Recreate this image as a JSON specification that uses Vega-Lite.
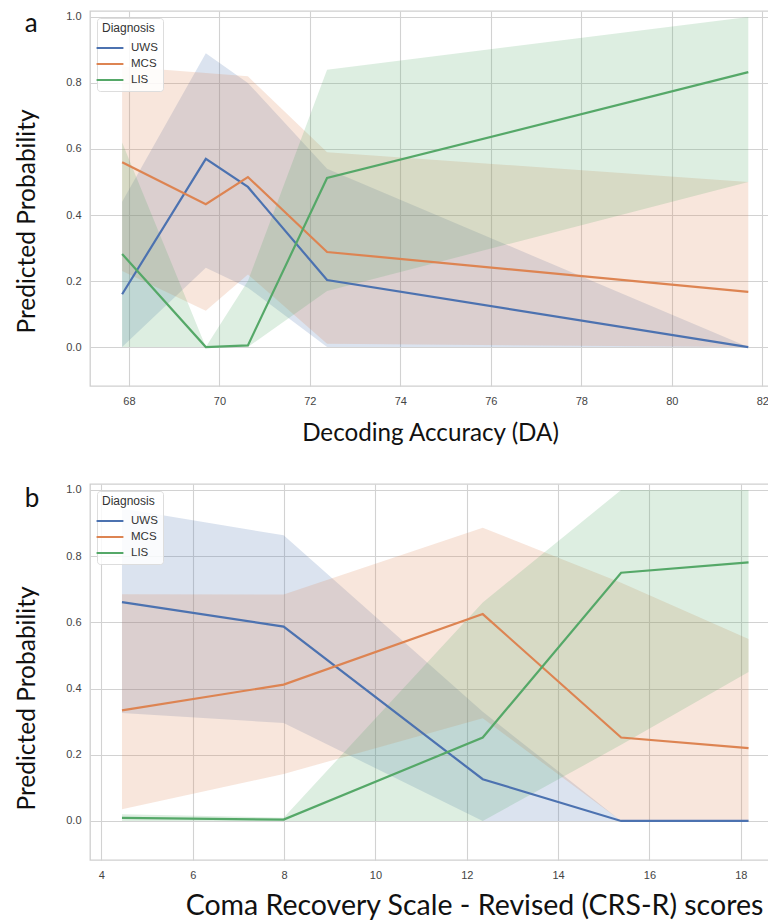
{
  "$schema": "https://vega.github.io/schema/vega-lite/v6.json",
  "padding": {"left": 14, "top": 10, "right": 0, "bottom": 0},
  "background": "white",
  "datasets": {
    "a": [
      {"x": 67.85, "diag": "UWS", "p": 0.16, "lo": 0.0, "hi": 0.44},
      {"x": 69.70, "diag": "UWS", "p": 0.57, "lo": 0.24, "hi": 0.89},
      {"x": 70.63, "diag": "UWS", "p": 0.485, "lo": 0.18, "hi": 0.8},
      {"x": 72.38, "diag": "UWS", "p": 0.203, "lo": 0.0, "hi": 0.54},
      {"x": 81.69, "diag": "UWS", "p": 0.0, "lo": 0.0, "hi": 0.0},
      {"x": 67.85, "diag": "MCS", "p": 0.56, "lo": 0.23, "hi": 0.85},
      {"x": 69.70, "diag": "MCS", "p": 0.433, "lo": 0.11, "hi": 0.83},
      {"x": 70.63, "diag": "MCS", "p": 0.515, "lo": 0.22, "hi": 0.82},
      {"x": 72.38, "diag": "MCS", "p": 0.288, "lo": 0.01, "hi": 0.59},
      {"x": 81.69, "diag": "MCS", "p": 0.167, "lo": 0.0, "hi": 0.5},
      {"x": 67.85, "diag": "LIS", "p": 0.282, "lo": 0.0, "hi": 0.62},
      {"x": 69.70, "diag": "LIS", "p": 0.0, "lo": 0.0, "hi": 0.0},
      {"x": 70.63, "diag": "LIS", "p": 0.005, "lo": 0.0, "hi": 0.2},
      {"x": 72.38, "diag": "LIS", "p": 0.512, "lo": 0.17, "hi": 0.84},
      {"x": 81.69, "diag": "LIS", "p": 0.833, "lo": 0.5, "hi": 1.0}
    ],
    "b": [
      {"x": 4.45, "diag": "UWS", "p": 0.661, "lo": 0.326, "hi": 0.944},
      {"x": 7.99, "diag": "UWS", "p": 0.587, "lo": 0.296, "hi": 0.863},
      {"x": 12.35, "diag": "UWS", "p": 0.126, "lo": 0.0, "hi": 0.33},
      {"x": 15.38, "diag": "UWS", "p": 0.0, "lo": 0.0, "hi": 0.0},
      {"x": 18.17, "diag": "UWS", "p": 0.0, "lo": 0.0, "hi": 0.0},
      {"x": 4.45, "diag": "MCS", "p": 0.334, "lo": 0.035, "hi": 0.685},
      {"x": 7.99, "diag": "MCS", "p": 0.412, "lo": 0.142, "hi": 0.684},
      {"x": 12.35, "diag": "MCS", "p": 0.625, "lo": 0.31, "hi": 0.886},
      {"x": 15.38, "diag": "MCS", "p": 0.252, "lo": 0.0, "hi": 0.72},
      {"x": 18.17, "diag": "MCS", "p": 0.22, "lo": 0.0, "hi": 0.55},
      {"x": 4.45, "diag": "LIS", "p": 0.009, "lo": 0.0, "hi": 0.02},
      {"x": 7.99, "diag": "LIS", "p": 0.004, "lo": 0.0, "hi": 0.01},
      {"x": 12.35, "diag": "LIS", "p": 0.252, "lo": 0.0, "hi": 0.66},
      {"x": 15.38, "diag": "LIS", "p": 0.75, "lo": 0.23, "hi": 1.0},
      {"x": 18.17, "diag": "LIS", "p": 0.781, "lo": 0.45, "hi": 1.0}
    ],
    "la": [{"label": "a", "lx": 65.7, "ly": 0.955}],
    "lb": [{"label": "b", "lx": 2.32, "ly": 0.95}]
  },
  "vconcat": [
    {
      "width": 680,
      "height": 375,
      "layer": [
        {
          "data": {"name": "a"},
          "mark": {"type": "area", "opacity": 0.2},
          "encoding": {
            "x": {"field": "x", "type": "quantitative", "scale": {"domain": [67.14, 82.17], "nice": false, "zero": false},
                  "axis": {"values": [68, 70, 72, 74, 76, 78, 80, 82], "title": "Decoding Accuracy (DA)", "titleFontSize": 24.2}},
            "y": {"field": "lo", "type": "quantitative", "scale": {"domain": [-0.118, 1.018], "nice": false},
                  "axis": {"values": [0, 0.2, 0.4, 0.6, 0.8, 1.0], "format": ".1f", "title": "Predicted Probability", "titleY": 210}},
            "y2": {"field": "hi"},
            "color": {"field": "diag", "type": "nominal", "scale": {"domain": ["UWS", "MCS", "LIS"], "range": ["#4C72B0", "#DD8452", "#55A868"]}, "title": "Diagnosis"}
          }
        },
        {
          "data": {"name": "a"},
          "mark": {"type": "line", "strokeWidth": 2.2},
          "encoding": {
            "x": {"field": "x", "type": "quantitative"},
            "y": {"field": "p", "type": "quantitative"},
            "color": {"field": "diag", "type": "nominal", "title": "Diagnosis"}
          }
        },
        {
          "data": {"name": "la"},
          "mark": {"type": "text", "fontSize": 26, "align": "left", "baseline": "alphabetic", "color": "#111111", "clip": false},
          "encoding": {
            "x": {"field": "lx", "type": "quantitative"},
            "y": {"field": "ly", "type": "quantitative"},
            "text": {"field": "label"}
          }
        }
      ]
    },
    {
      "width": 680,
      "height": 376,
      "layer": [
        {
          "data": {"name": "b"},
          "mark": {"type": "area", "opacity": 0.2},
          "encoding": {
            "x": {"field": "x", "type": "quantitative", "scale": {"domain": [3.75, 18.64], "nice": false, "zero": false},
                  "axis": {"values": [4, 6, 8, 10, 12, 14, 16, 18], "title": "Coma Recovery Scale - Revised (CRS-R) scores", "titleFontSize": 28.5, "titlePadding": 11, "titleX": 384}},
            "y": {"field": "lo", "type": "quantitative", "scale": {"domain": [-0.118, 1.018], "nice": false},
                  "axis": {"values": [0, 0.2, 0.4, 0.6, 0.8, 1.0], "format": ".1f", "title": "Predicted Probability", "titleY": 214}},
            "y2": {"field": "hi"},
            "color": {"field": "diag", "type": "nominal", "scale": {"domain": ["UWS", "MCS", "LIS"], "range": ["#4C72B0", "#DD8452", "#55A868"]}, "title": "Diagnosis"}
          }
        },
        {
          "data": {"name": "b"},
          "mark": {"type": "line", "strokeWidth": 2.2},
          "encoding": {
            "x": {"field": "x", "type": "quantitative"},
            "y": {"field": "p", "type": "quantitative"},
            "color": {"field": "diag", "type": "nominal", "title": "Diagnosis"}
          }
        },
        {
          "data": {"name": "lb"},
          "mark": {"type": "text", "fontSize": 26, "align": "left", "baseline": "alphabetic", "color": "#111111", "clip": false},
          "encoding": {
            "x": {"field": "lx", "type": "quantitative"},
            "y": {"field": "ly", "type": "quantitative"},
            "text": {"field": "label"}
          }
        }
      ]
    }
  ],
  "resolve": {"scale": {"color": "independent"}, "legend": {"color": "independent"}},
  "spacing": 37,
  "config": {
    "view": {"stroke": "#cfcfcf", "strokeWidth": 1.3},
    "text": {"font": "Lato"},
    "axis": {
      "grid": true, "gridColor": "#d2d2d2", "gridWidth": 1.1,
      "domain": false, "ticks": false,
      "labelFont": "Liberation Sans", "labelFontSize": 11, "labelColor": "#444444", "labelPadding": 9,
      "titleFont": "Lato", "titleFontSize": 26, "titleFontWeight": "normal", "titleColor": "#111111"
    },
    "axisX": {"titlePadding": 15},
    "axisY": {"titlePadding": 26, "titleFontSize": 24.5},
    "legend": {
      "orient": "top-left", "offset": 7,
      "fillColor": "rgba(255,255,255,0.85)", "strokeColor": "#dddddd", "cornerRadius": 3, "padding": 5,
      "titleFont": "Liberation Sans", "titleFontSize": 12, "titleFontWeight": "normal", "titleColor": "#333333",
      "labelFont": "Liberation Sans", "labelFontSize": 11.5, "labelColor": "#333333",
      "symbolType": "M-2,0H2", "symbolSize": 180, "symbolStrokeWidth": 2, "symbolOpacity": 1, "labelOffset": 13, "rowPadding": 2
    }
  }
}
